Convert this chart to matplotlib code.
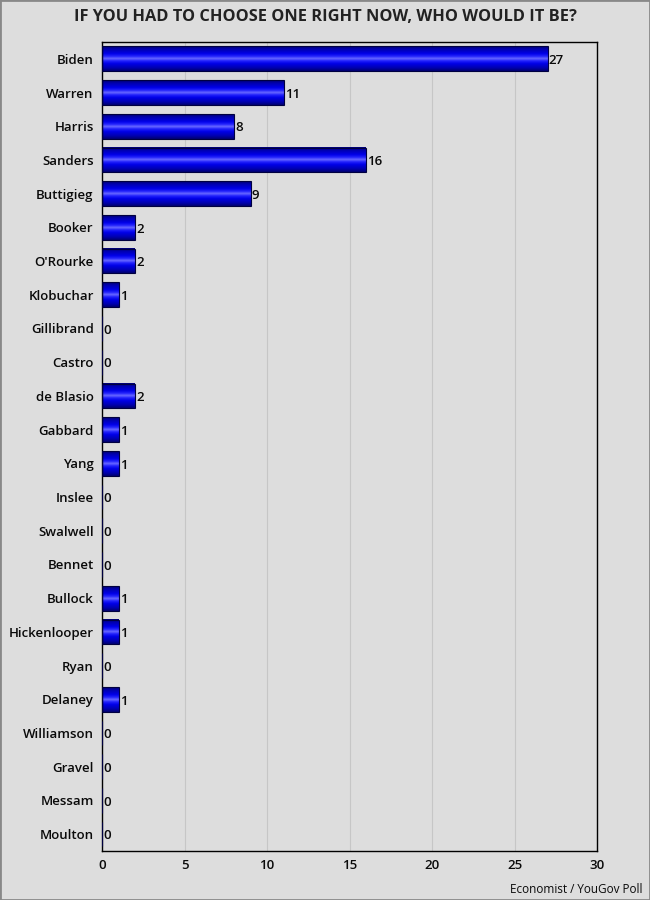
import numpy as np
import matplotlib.pyplot as plt
from matplotlib.colors import LinearSegmentedColormap
from matplotlib.patches import Rectangle

candidates = ['Biden', 'Warren', 'Harris', 'Sanders', 'Buttigieg', 'Booker', "O'Rourke",
              'Klobuchar', 'Gillibrand', 'Castro', 'de Blasio', 'Gabbard', 'Yang', 'Inslee',
              'Swalwell', 'Bennet', 'Bullock', 'Hickenlooper', 'Ryan', 'Delaney',
              'Williamson', 'Gravel', 'Messam', 'Moulton']
values = [27, 11, 8, 16, 9, 2, 2, 1, 0, 0, 2, 1, 1, 0, 0, 0, 1, 1, 0, 1, 0, 0, 0, 0]
xticks = [0, 5, 10, 15, 20, 25, 30]

plt.rcParams['font.family'] = ['Open Sans', 'DejaVu Sans']
bg = '#dddddd'
txt = '#0a0a0a'
wt = 'semibold'

fig = plt.figure(figsize=(6.5, 9), dpi=100, facecolor=bg)
ax = fig.add_axes([0.157, 0.0544, 0.7615, 0.899])
ax.set_facecolor(bg)

y = np.arange(len(candidates))
bars = ax.barh(y, values, height=0.73, color='none', edgecolor='#000040', linewidth=0.8, zorder=3)

# gradient fill: dark edges, bright blue body, light streak through the middle
cmap = LinearSegmentedColormap.from_list('blu', [
    (0.0, '#000070'), (0.12, '#0000b0'), (0.3, '#0000e8'), (0.42, '#2828ff'),
    (0.5, '#7272ff'), (0.58, '#2828ff'), (0.7, '#0000e8'), (0.88, '#0000b0'), (1.0, '#000070')])
grad = np.linspace(0, 1, 64).reshape(-1, 1)
for b, v in zip(bars, values):
    if v <= 0:
        continue
    x0, y0 = b.get_x(), b.get_y()
    ax.imshow(grad, cmap=cmap, aspect='auto', interpolation='bicubic',
              extent=(x0, x0 + b.get_width(), y0 + b.get_height(), y0), zorder=2)

for yi, v in zip(y, values):
    ax.text(v + 0.08, yi + 0.05, str(v), va='center', ha='left', fontsize=9.5,
            fontweight=wt, color=txt, zorder=4)

ax.set_xlim(0, 30)
ax.set_ylim(len(candidates) - 0.5, -0.5)
ax.set_yticks(y)
ax.set_yticklabels(candidates, fontsize=9.5, color=txt, fontweight=wt)
ax.set_xticks(xticks)
ax.set_xticklabels([str(t) for t in xticks], fontsize=9.5, color=txt, fontweight=wt)
ax.tick_params(length=0, pad=6)
ax.grid(axis='x', color='#c6c6c6', linewidth=0.8, zorder=0)
ax.set_axisbelow(True)
for s in ax.spines.values():
    s.set_color('black')
    s.set_linewidth(1.0)

fig.text(0.5, 0.981, 'IF YOU HAD TO CHOOSE ONE RIGHT NOW, WHO WOULD IT BE?',
         ha='center', va='center', fontsize=11.8, fontweight='bold', color='#222222')
fig.text(0.988, 0.004, 'Economist / YouGov Poll', ha='right', va='bottom', fontsize=8.5, color=txt)
fig.patches.append(Rectangle((0, 0), 1, 1, transform=fig.transFigure, fill=False,
                             edgecolor='#888888', linewidth=2))

fig.savefig('out.png', dpi=100, facecolor=bg)
